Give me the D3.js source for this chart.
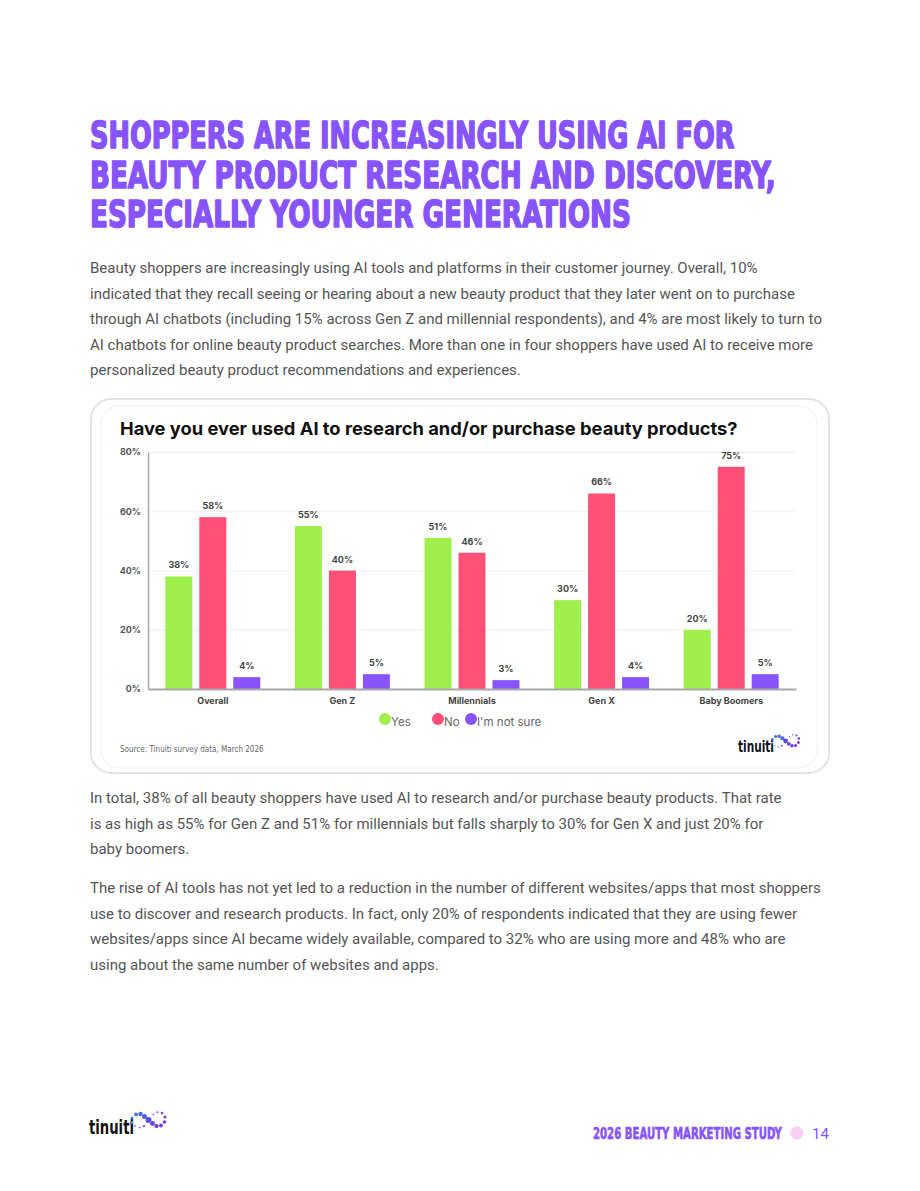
<!DOCTYPE html>
<html>
<head>
<meta charset="utf-8">
<script src="https://cdn.jsdelivr.net/npm/d3@7"></script>
<style>
  html, body { margin: 0; padding: 0; background: #fff; }
  svg { display: block; }
</style>
</head>
<body>
<div id="page"></div>
<script>
// chart data
const categories = ['Overall', 'Gen Z', 'Millennials', 'Gen X', 'Baby Boomers'];
const seriesNames = ['Yes', 'No', "I'm not sure"];
const yesValues = [38, 55, 51, 30, 20];
const noValues = [58, 40, 46, 66, 75];
const notSureValues = [4, 5, 3, 4, 5];
const yTicks = [0, 20, 40, 60, 80];
const seriesColors = ['#a0f04d', '#ff5078', '#8953fd'];

// page text
const titleLines = [
    'SHOPPERS ARE INCREASINGLY USING AI FOR',
    'BEAUTY PRODUCT RESEARCH AND DISCOVERY,',
    'ESPECIALLY YOUNGER GENERATIONS'
];
const introLines = [
    'Beauty shoppers are increasingly using AI tools and platforms in their customer journey. Overall, 10%',
    'indicated that they recall seeing or hearing about a new beauty product that they later went on to purchase',
    'through AI chatbots (including 15% across Gen Z and millennial respondents), and 4% are most likely to turn to',
    'AI chatbots for online beauty product searches. More than one in four shoppers have used AI to receive more',
    'personalized beauty product recommendations and experiences.'
];
const totalLines = [
    'In total, 38% of all beauty shoppers have used AI to research and/or purchase beauty products. That rate',
    'is as high as 55% for Gen Z and 51% for millennials but falls sharply to 30% for Gen X and just 20% for',
    'baby boomers.'
];
const riseLines = [
    'The rise of AI tools has not yet led to a reduction in the number of different websites/apps that most shoppers',
    'use to discover and research products. In fact, only 20% of respondents indicated that they are using fewer',
    'websites/apps since AI became widely available, compared to 32% who are using more and 48% who are',
    'using about the same number of websites and apps.'
];

const purple = '#8753fb';
const bodyColor = '#555';
const narrowFont = '"Liberation Sans Narrow", "DejaVu Sans Condensed", sans-serif';

const svg = d3.select('#page').append('svg')
    .attr('width', 920)
    .attr('height', 1191);

// squeeze a text horizontally so it spans a given width
function fitWidth(sel, x, y, target) {
    sel.each(function (d, i) {
        const t = d3.select(this);
        const w = this.getComputedTextLength();
        const tw = typeof target === 'function' ? target(d, i) : target;
        const ty = typeof y === 'function' ? y(d, i) : y;
        t.attr('x', 0).attr('y', 0)
            .attr('transform', `translate(${x},${ty}) scale(${tw / w},1)`);
    });
}

// headline
const titleWidths = [645, 686, 541];
svg.append('g').selectAll('text')
    .data(titleLines)
    .join('text')
    .attr('font-family', narrowFont)
    .attr('font-weight', 'bold')
    .attr('font-size', 38)
    .attr('fill', purple)
    .attr('stroke', purple)
    .attr('stroke-width', 1.6)
    .attr('stroke-linejoin', 'round')
    .text(d => d)
    .call(fitWidth, 90, (d, i) => 148 + i * 39.5, (d, i) => titleWidths[i]);

// body paragraphs
function paragraph(lines, top) {
    svg.append('g').selectAll('text')
        .data(lines)
        .join('text')
        .attr('x', 90)
        .attr('y', (d, i) => top + i * 25.6)
        .attr('font-family', 'Roboto, sans-serif')
        .attr('font-size', 15)
        .attr('fill', bodyColor)
        .text(d => d);
}
paragraph(introLines, 273);
paragraph(totalLines, 803);
paragraph(riseLines, 893);

// chart card
svg.append('rect')
    .attr('x', 91).attr('y', 399)
    .attr('width', 738).attr('height', 374)
    .attr('rx', 20)
    .attr('fill', '#fff')
    .attr('stroke', '#e3e3e3')
    .attr('stroke-width', 2);
svg.append('rect')
    .attr('x', 101).attr('y', 406)
    .attr('width', 716).attr('height', 362)
    .attr('rx', 18)
    .attr('fill', 'none')
    .attr('stroke', '#f2f2f2')
    .attr('stroke-width', 1);

svg.append('text')
    .attr('font-family', 'Inter, "Open Sans", sans-serif')
    .attr('font-weight', 700)
    .attr('font-size', 18)
    .attr('fill', '#111')
    .text('Have you ever used AI to research and/or purchase beauty products?')
    .call(fitWidth, 120, 435, 618);

// scales
const x = d3.scaleBand()
    .domain(categories)
    .range([148, 796]);

const xSub = d3.scaleBand()
    .domain(seriesNames)
    .range([0, x.bandwidth()])
    .paddingInner(0.206)
    .paddingOuter(0.51);

const y = d3.scaleLinear()
    .domain([0, 80])
    .range([689, 452]);

const color = d3.scaleOrdinal().domain(seriesNames).range(seriesColors);

const data = categories.map((c, i) => ({
    category: c,
    values: [
        { key: seriesNames[0], value: yesValues[i] },
        { key: seriesNames[1], value: noValues[i] },
        { key: seriesNames[2], value: notSureValues[i] }
    ]
}));

const chart = svg.append('g');
const labelFont = 'Inter, "Open Sans", sans-serif';

// gridlines
chart.append('g')
    .attr('transform', 'translate(148,0)')
    .call(d3.axisLeft(y).tickValues(yTicks.filter(t => t > 0)).tickSize(-648).tickFormat(''))
    .call(g => g.select('.domain').remove())
    .call(g => g.selectAll('line').attr('stroke', '#f0f0f0'));

// y axis
chart.append('g')
    .attr('transform', 'translate(148,0)')
    .call(d3.axisLeft(y).tickValues(yTicks).tickSize(0).tickPadding(7).tickFormat(d => d + '%'))
    .call(g => g.select('.domain').attr('stroke', '#a8a8a8').attr('stroke-width', 1.5))
    .call(g => g.selectAll('text')
        .attr('font-family', labelFont)
        .attr('font-weight', 700)
        .attr('font-size', 9)
        .attr('fill', '#555'));

// bars
const groups = chart.append('g').selectAll('g')
    .data(data)
    .join('g')
    .attr('transform', d => `translate(${x(d.category)},0)`);

groups.selectAll('rect')
    .data(d => d.values)
    .join('rect')
    .attr('x', d => xSub(d.key))
    .attr('y', d => y(d.value))
    .attr('width', xSub.bandwidth())
    .attr('height', d => y(0) - y(d.value))
    .attr('fill', d => color(d.key));

groups.selectAll('text')
    .data(d => d.values)
    .join('text')
    .attr('x', d => xSub(d.key) + xSub.bandwidth() / 2)
    .attr('y', d => y(d.value) - 8)
    .attr('text-anchor', 'middle')
    .attr('font-family', labelFont)
    .attr('font-weight', 700)
    .attr('font-size', 9)
    .attr('fill', '#444')
    .text(d => d.value + '%');

// x axis
chart.append('g')
    .attr('transform', `translate(0,${y(0)})`)
    .call(d3.axisBottom(x).tickSize(0).tickPadding(9))
    .call(g => g.select('.domain').attr('stroke', '#a8a8a8').attr('stroke-width', 2))
    .call(g => g.selectAll('text')
        .attr('font-family', labelFont)
        .attr('font-weight', 700)
        .attr('font-size', 9)
        .attr('fill', '#444'));

// legend
const legendX = [385, 438, 471];
const legend = chart.append('g').selectAll('g')
    .data(seriesNames)
    .join('g')
    .attr('transform', (d, i) => `translate(${legendX[i]},719)`);
legend.append('circle')
    .attr('r', 6)
    .attr('fill', d => color(d));
legend.append('text')
    .attr('x', 6)
    .attr('y', 7)
    .attr('font-family', labelFont)
    .attr('font-size', 11.5)
    .attr('fill', '#666')
    .text(d => d);

// source
svg.append('text')
    .attr('x', 120).attr('y', 752)
    .attr('font-family', narrowFont)
    .attr('font-size', 8)
    .attr('fill', '#666')
    .text('Source: Tinuiti survey data, March 2026');

// tinuiti logo (word + dotted loop)
const logoDots = [
    [2, 13, 1.2, '#4a74e0'], [3, 8, 1.6, '#4a74e0'], [7, 4.5, 1.9, '#4370dc'],
    [11.5, 4, 2.2, '#4a6ae0'], [15.5, 6.5, 2.5, '#5460e0'], [19.5, 10, 3, '#5a4fe0'],
    [6, 16, 0.9, '#6a7be0'], [10.5, 17.5, 1, '#6a7be0'], [15, 16, 1.2, '#6a6ae0'],
    [23.5, 13.5, 2.4, '#6d3fe0'], [27.5, 16, 2.1, '#7436e0'], [32, 15.5, 1.9, '#7a36e0'],
    [35.5, 12, 1.8, '#7a36e0'], [36, 7, 1.6, '#7a40e0'], [33, 3, 1.3, '#8048e0'],
    [28.5, 2.2, 1, '#8a55e0'], [24.5, 4.5, 0.9, '#8a55e0']
];
function logo(tx, ty, s) {
    const g = svg.append('g').attr('transform', `translate(${tx},${ty}) scale(${s})`);
    g.append('text')
        .attr('font-family', narrowFont)
        .attr('font-weight', 'bold')
        .attr('font-size', 20)
        .attr('fill', '#111')
        .text('tinuiti')
        .call(fitWidth, 0, 24, 45);
    g.selectAll('circle')
        .data(logoDots)
        .join('circle')
        .attr('cx', d => 40 + d[0])
        .attr('cy', d => d[1])
        .attr('r', d => d[2])
        .attr('fill', d => d[3]);
}
logo(89, 1110, 1);
logo(738, 733, 0.8);

// footer
svg.append('text')
    .attr('font-family', narrowFont)
    .attr('font-weight', 'bold')
    .attr('font-size', 16.5)
    .attr('fill', purple)
    .attr('stroke', purple)
    .attr('stroke-width', 0.6)
    .text('2026 BEAUTY MARKETING STUDY')
    .call(fitWidth, 593, 1139, 189);
svg.append('circle')
    .attr('cx', 797).attr('cy', 1133).attr('r', 6.5)
    .attr('fill', '#f9cdf6');
svg.append('text')
    .attr('x', 812).attr('y', 1139)
    .attr('font-family', 'Roboto, sans-serif')
    .attr('font-size', 15)
    .attr('fill', purple)
    .text('14');
</script>
</body>
</html>
